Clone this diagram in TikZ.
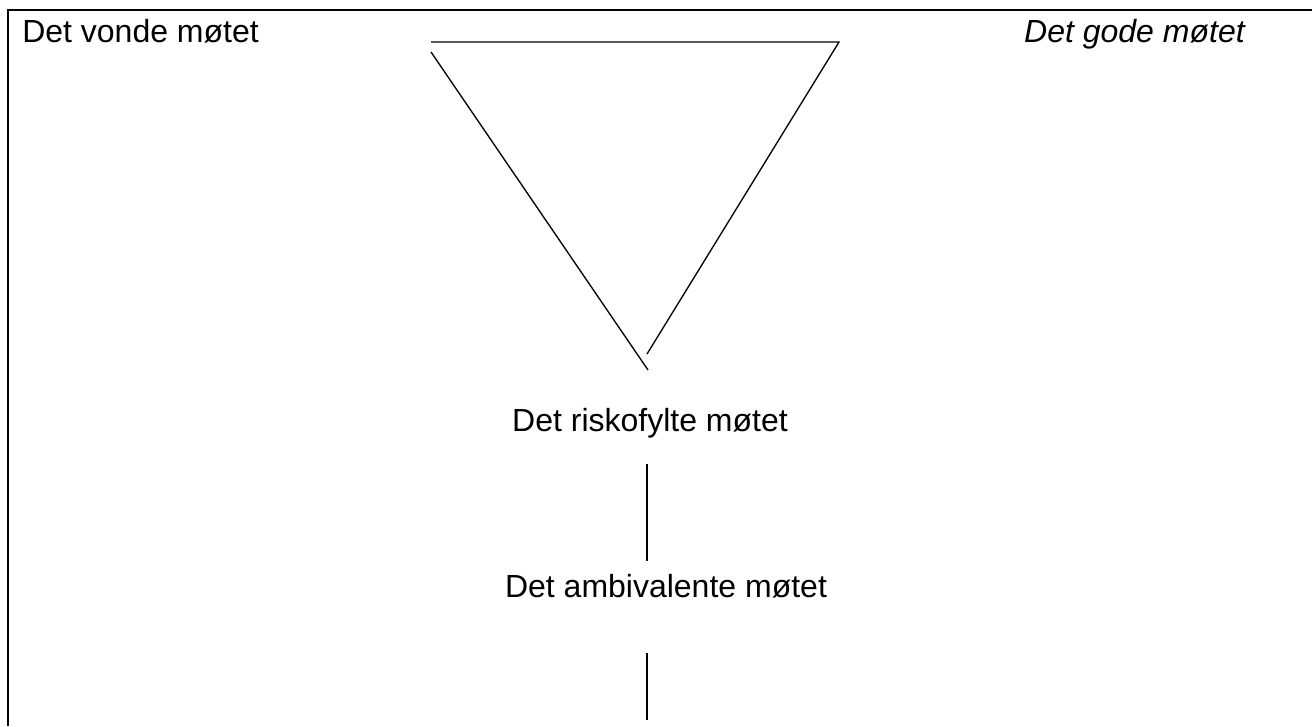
\documentclass[tikz,border=0pt]{standalone}
\usepackage{fontspec}
\setmainfont{Liberation Sans}
\usetikzlibrary{positioning}

\begin{document}
\begin{tikzpicture}[
  x=0.75pt, y=-0.75pt,
  etikett/.style={anchor=base, inner sep=0pt, font=\fontsize{24}{28}\selectfont},
  linje/.style={line width=1pt},
  ramme/.style={line width=1.5pt}
]
\useasboundingbox (0,0) rectangle (1312,726);

% ramme (bare topp og venstre)
\coordinate (rammeBunn) at (8,726);
\coordinate (rammeHjorne) at (8,10);
\coordinate (rammeHoyre) at (1312,10);
\draw[ramme] (rammeBunn) -- (rammeHjorne) -- (rammeHoyre);

\node[etikett, anchor=base west] (vond) at (22,42) {Det vonde møtet};
\node[etikett, anchor=base east, font=\fontsize{24}{28}\selectfont\itshape] (god) at (1245,42) {Det gode møtet};
\node[etikett] (risiko) at (650,431) {Det riskofylte møtet};
\node[etikett] (ambivalent) at (666,597) {Det ambivalente møtet};

% trekanten
\coordinate (topVenstre) at (431,42);
\coordinate (topHoyre) at (839,42);
\coordinate (sideVenstre) at (431,52);
\coordinate (spissVenstre) at (648,370);
\coordinate (spissHoyre) at (647,354);
\draw[linje] (topVenstre) -- (topHoyre) -- (spissHoyre);
\draw[linje] (sideVenstre) -- (spissVenstre);

% loddrette streker
\coordinate (strek1a) at (647,464);
\coordinate (strek1b) at (647,561);
\coordinate (strek2a) at (647,653);
\coordinate (strek2b) at (647,720);
\draw[linje] (strek1a) -- (strek1b);
\draw[linje] (strek2a) -- (strek2b);
\end{tikzpicture}
\end{document}
